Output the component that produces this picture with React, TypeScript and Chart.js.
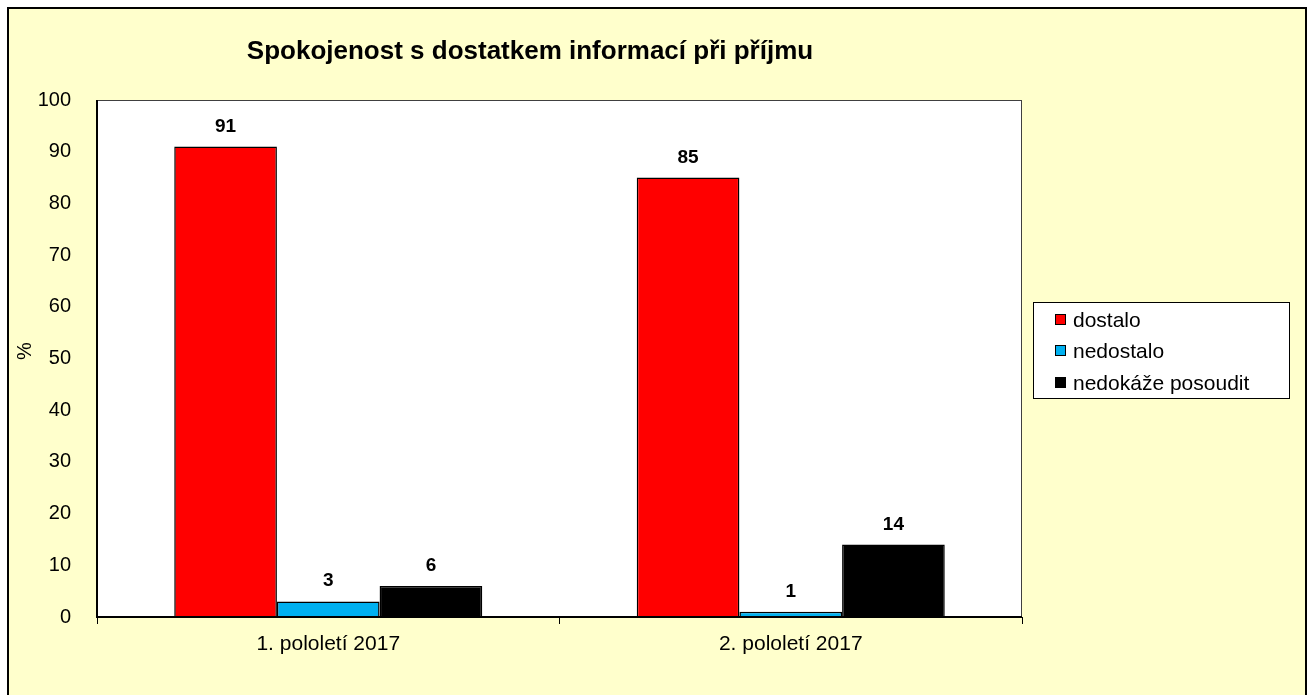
import React, { useEffect, useRef } from "react";
import Chart from "chart.js/auto";

const TITLE = "Spokojenost s dostatkem informací při příjmu";
const CATEGORIES = ["1. pololetí 2017", "2. pololetí 2017"];
const SERIES_NAMES = ["dostalo", "nedostalo", "nedokáže posoudit"];
const DOSTALO = [91, 85];
const NEDOSTALO = [3, 1];
const NEDOKAZE = [6, 14];
const SERIES_COLORS = ["#FF0000", "#00B0F0", "#000000"];
const Y_TITLE = "%";

const FONT = "'Liberation Sans', Arial, sans-serif";

const framePlugin = {
  id: "frame",
  beforeDraw(chart: any) {
    const { ctx, chartArea } = chart;
    ctx.save();
    ctx.fillStyle = "#FFFFFF";
    ctx.fillRect(0, 0, chart.width, chart.height);
    ctx.fillStyle = "#FFFFCC";
    ctx.fillRect(7, 7, 1300, chart.height);
    ctx.strokeStyle = "#000000";
    ctx.lineWidth = 2;
    ctx.beginPath();
    ctx.moveTo(8, chart.height + 5);
    ctx.lineTo(8, 8);
    ctx.lineTo(1306, 8);
    ctx.lineTo(1306, chart.height + 5);
    ctx.stroke();
    ctx.fillStyle = "#FFFFFF";
    ctx.fillRect(chartArea.left, chartArea.top, chartArea.right - chartArea.left, chartArea.bottom - chartArea.top);
    ctx.restore();
  },
  afterDatasetsDraw(chart: any) {
    const { ctx, chartArea } = chart;
    ctx.save();
    ctx.strokeStyle = "#404040";
    ctx.lineWidth = 1;
    ctx.strokeRect(chartArea.left + 0.5, chartArea.top + 0.5, chartArea.right - chartArea.left - 1, chartArea.bottom - chartArea.top);
    ctx.strokeStyle = "#000000";
    ctx.lineWidth = 2;
    ctx.beginPath();
    ctx.moveTo(chartArea.left, chartArea.top);
    ctx.lineTo(chartArea.left, chartArea.bottom);
    ctx.lineTo(chartArea.right, chartArea.bottom);
    ctx.stroke();
    ctx.fillStyle = "#000000";
    ctx.font = "bold 19px " + FONT;
    ctx.textAlign = "center";
    ctx.textBaseline = "alphabetic";
    chart.data.datasets.forEach((ds: any, i: number) => {
      const meta = chart.getDatasetMeta(i);
      meta.data.forEach((bar: any, j: number) => {
        ctx.fillText(String(ds.data[j]), bar.x, bar.y - 15);
      });
    });
    ctx.restore();
  },
  afterDraw(chart: any) {
    const { ctx } = chart;
    ctx.save();
    ctx.fillStyle = "#000000";
    ctx.font = "bold 26px " + FONT;
    ctx.textAlign = "center";
    ctx.textBaseline = "alphabetic";
    ctx.fillText(TITLE, 530, 59);
    ctx.save();
    ctx.translate(25, 351);
    ctx.rotate(-Math.PI / 2);
    ctx.font = "20px " + FONT;
    ctx.textAlign = "center";
    ctx.textBaseline = "middle";
    ctx.fillText(Y_TITLE, 0, 0);
    ctx.restore();
    ctx.fillStyle = "#FFFFFF";
    ctx.fillRect(1033, 302, 257, 97);
    ctx.strokeStyle = "#000000";
    ctx.lineWidth = 1;
    ctx.strokeRect(1033.5, 302.5, 256, 96);
    const rows = [320, 351, 383];
    ctx.font = "21px " + FONT;
    ctx.textAlign = "left";
    ctx.textBaseline = "middle";
    SERIES_NAMES.forEach((name, i) => {
      const cy = rows[i];
      ctx.fillStyle = SERIES_COLORS[i];
      ctx.fillRect(1055, cy - 6, 11, 11);
      ctx.strokeStyle = "#000000";
      ctx.strokeRect(1055.5, cy - 5.5, 10, 10);
      ctx.fillStyle = "#000000";
      ctx.fillText(name, 1073, cy + 1);
    });
    ctx.restore();
  },
};

export default function App() {
  const ref = useRef<HTMLCanvasElement>(null);
  useEffect(() => {
    if (!ref.current) return;
    const datasets = [DOSTALO, NEDOSTALO, NEDOKAZE].map((d, i) => ({
      label: SERIES_NAMES[i],
      data: d,
      backgroundColor: SERIES_COLORS[i],
      borderColor: "#000000",
      borderWidth: 1.5,
      categoryPercentage: 0.666,
      barPercentage: 1.0,
    }));
    const chart = new Chart(ref.current, {
      type: "bar",
      data: { labels: CATEGORIES, datasets },
      options: {
        animation: false,
        responsive: false,
        devicePixelRatio: 1,
        layout: { padding: { left: 7, top: 100, right: 286, bottom: 0 } },
        plugins: {
          legend: { display: false },
          title: { display: false },
          tooltip: { enabled: false },
        },
        scales: {
          x: {
            grid: {
              offset: true,
              drawOnChartArea: false,
              drawTicks: true,
              tickLength: 7,
              color: "#000000",
              lineWidth: 1,
            },
            border: { display: false },
            ticks: { color: "#000000", font: { family: FONT, size: 21 }, padding: 8 },
            afterFit: (scale: any) => {
              scale.height = 78;
            },
          },
          y: {
            min: 0,
            max: 100,
            ticks: { stepSize: 10, color: "#000000", font: { family: FONT, size: 20 }, padding: 26 },
            grid: { display: false, drawTicks: false },
            border: { display: false },
            afterFit: (scale: any) => {
              scale.width = 90;
            },
          },
        },
      },
      plugins: [framePlugin],
    });
    return () => chart.destroy();
  }, []);
  return (
    <div style={{ position: "absolute", left: 0, top: 0, width: 1308, height: 695 }}>
      <canvas ref={ref} width={1308} height={695} style={{ display: "block" }} />
    </div>
  );
}
